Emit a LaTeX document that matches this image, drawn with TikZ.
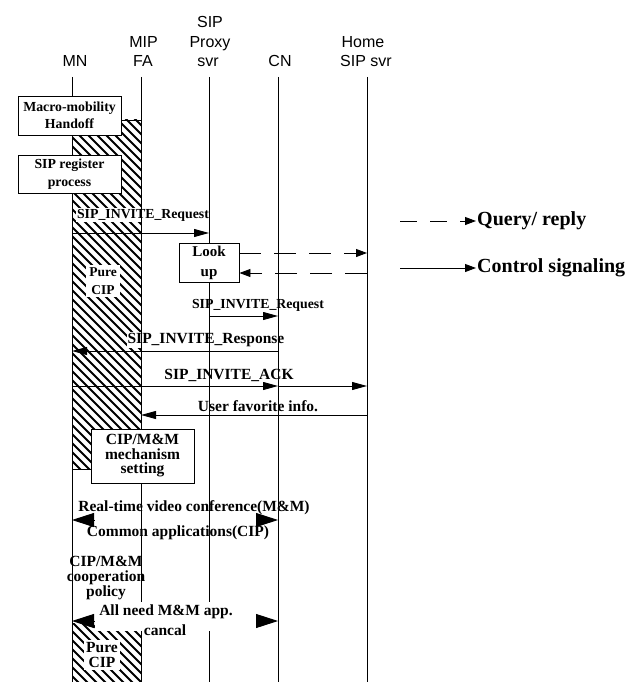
\documentclass[tikz,border=0pt]{standalone}
\usepackage{fontspec}
\setmainfont{Liberation Serif}
\newfontfamily\hdrfont{Liberation Sans}
\usetikzlibrary{arrows.meta}
\begin{document}
\begin{tikzpicture}[x=1pt,y=-1pt,
  hdr/.style={font={\hdrfont\fontsize{16}{18}\selectfont}, inner sep=0pt, anchor=base},
  lblA/.style={font={\fontsize{13.8}{17}\selectfont\bfseries}, inner sep=1pt, align=center},
  lblB/.style={font={\fontsize{15.5}{15}\selectfont\bfseries}, inner sep=1pt, align=center},
  wlbl/.style={fill=white},
  life/.style={line width=0.9pt},
  boxA/.style={draw, fill=white, line width=0.9pt, inner sep=0pt, align=center},
  msg/.style={line width=0.9pt, -{Triangle[length=15pt,width=8pt]}},
  qry/.style={line width=0.9pt, dash pattern=on 22pt off 13pt, -{Triangle[length=11pt,width=8pt]}},
  big/.style={line width=0.9pt, {Triangle[length=22pt,width=14pt]}-{Triangle[length=22pt,width=14pt]}},
  stripe/.style={line width=2pt}
]
\useasboundingbox (0,0) rectangle (642,682);

% headers
\node[hdr] (mnH) at (75,67) {MN};
\node[hdr] (faH2) at (143.5,48) {MIP};
\node[hdr] (faH) at (143,67) {FA};
\node[hdr] (pxH3) at (210,28) {SIP};
\node[hdr] (pxH2) at (210,48) {Proxy};
\node[hdr] (pxH) at (208,67) {svr};
\node[hdr] (cnH) at (280,67) {CN};
\node[hdr] (hmH2) at (363,48) {Home};
\node[hdr] (hmH) at (366,67) {SIP svr};

% lifeline ends
\coordinate (mnT) at (72,77);   \coordinate (mnB) at (72,682);
\coordinate (faT) at (141,77);  \coordinate (faB) at (141,682);
\coordinate (pxT) at (209,77);  \coordinate (pxB) at (209,682);
\coordinate (cnT) at (278,77);  \coordinate (cnB) at (278,682);
\coordinate (hmT) at (367,77);  \coordinate (hmB) at (367,682);

% message levels
\coordinate (y1) at (0,233);
\coordinate (q1) at (0,253);
\coordinate (q2) at (0,273);
\coordinate (y2) at (0,316);
\coordinate (y3) at (0,351);
\coordinate (y4) at (0,386);
\coordinate (y5) at (0,415);
\coordinate (y6) at (0,520);
\coordinate (y7) at (0,621);

% hatched areas
\begin{scope}
  \clip (72,120) rectangle (141,469);
  \foreach \a in {-360,-351,...,150} \draw[stripe] (\a,110) -- ++(370,370);
\end{scope}
\draw[line width=0.9pt] (72,120) rectangle (141,469);
\begin{scope}
  \clip (72,623) rectangle (141,682);
  \foreach \a in {0,9,...,150} \draw[stripe] (\a,613) -- ++(80,80);
\end{scope}

% messages
\draw[msg] (mnT |- y1) -- (pxT |- y1);
\draw[msg] (pxT |- y2) -- (cnT |- y2);
\draw[msg] (cnT |- y3) -- (mnT |- y3);
\draw[msg] (mnT |- y4) -- (cnT |- y4);
\draw[msg] (cnT |- y4) -- (hmT |- y4);
\draw[msg] (hmT |- y5) -- (faT |- y5);

% labels
\node[lblA, wlbl] (l1) at (143,215) {SIP\_INVITE\_Request};
\node[lblA, wlbl] (l2) at (258,305) {SIP\_INVITE\_Request};
\node[lblB, wlbl] (l3) at (206,340) {SIP\_INVITE\_Response};
\node[lblB, wlbl] (l4) at (229,375) {SIP\_INVITE\_ACK};
\node[lblB, wlbl] (l5) at (258,406) {User favorite info.};
\node[lblB, wlbl] (l6) at (194,508) {Real-time video conference(M\&M)};
\node[lblB, wlbl] (l7) at (178,533) {Common applications(CIP)};
\node[lblA, wlbl, inner sep=3pt, font={\fontsize{13.5}{18}\selectfont\bfseries}] (pure1) at (103,281) {Pure\\CIP};
\node[lblB, wlbl, inner sep=2pt] (pure2) at (102,655) {Pure\\CIP};

% application arrows (line hidden between heads)
\draw[big] (mnT |- y6) -- (cnT |- y6);
\fill[white] (95,518) rectangle (256,522);

% lifelines
\draw[life] (mnT) -- (mnB);
\draw[life] (faT) -- (faB);
\draw[life] (pxT) -- (pxB);
\draw[life] (cnT) -- (cnB);
\draw[life] (hmT) -- (hmB);

% boxes
\node[boxA, minimum width=103pt, minimum height=39pt, font={\fontsize{13.8}{17}\selectfont\bfseries}] (macro) at (69.5,115.5) {Macro-mobility\\Handoff};
\node[boxA, minimum width=103pt, minimum height=38pt, font={\fontsize{13.8}{18}\selectfont\bfseries}] (sipreg) at (69.5,174) {SIP register\\process};
\node[boxA, minimum width=60pt, minimum height=39pt, font={\fontsize{15}{20}\selectfont\bfseries}] (look) at (209,262.5) {Look\\up};
\node[boxA, minimum width=103pt, minimum height=54pt, font={\fontsize{15.5}{14.5}\selectfont\bfseries}] (cipmm) at (142.5,456) {CIP/M\&M\\mechanism\\setting};

% dashed query/reply
\draw[qry] (look.east |- q1) -- (hmT |- q1);
\draw[qry] (hmT |- q2) -- (look.east |- q2);

% cooperation policy
\node[lblB] (coop) at (106,578) {CIP/M\&M\\cooperation\\policy};

% all need M&M app. cancal
\draw[big] (mnT |- y7) -- (cnT |- y7);
\fill[white] (95,602) rectangle (256,631);
\node[lblB] (an1) at (166,612) {All need M\&M app.};
\node[lblB, wlbl] (an2) at (165,630) {cancal};

% legend
\coordinate (lq1) at (400,221); \coordinate (lq2) at (476,221);
\coordinate (lc1) at (400,268); \coordinate (lc2) at (476,268);
\draw[line width=0.9pt, dash pattern=on 17pt off 13pt, -{Triangle[length=11pt,width=8pt]}] (lq1) -- (lq2);
\draw[line width=0.9pt, -{Triangle[length=11pt,width=8pt]}] (lc1) -- (lc2);
\node[font={\fontsize{20}{22}\selectfont\bfseries}, inner sep=0pt, anchor=west] (lgq) at (477,221) {Query/ reply};
\node[font={\fontsize{20}{22}\selectfont\bfseries}, inner sep=0pt, anchor=west] (lgc) at (477,268) {Control signaling};
\end{tikzpicture}
\end{document}
